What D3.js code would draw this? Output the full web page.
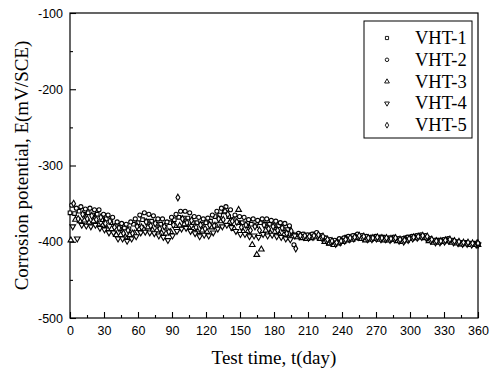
<!DOCTYPE html>
<html lang="en">
<head>
    <meta charset="UTF-8">
    <script src="https://d3js.org/d3.v7.min.js"></script>
    <style>
        body { margin: 0; background: #fff; }
        .tick text { font-family: "Liberation Sans", Arial, sans-serif; font-size: 12.5px; fill: #000; }
        .title { font-family: "Liberation Serif", "Times New Roman", serif; font-size: 19px; fill: #000; }
        .legend text { font-family: "Liberation Serif", "Times New Roman", serif; font-size: 18.5px; fill: #000; }
    </style>
</head>
<body>
    <div id="chart"></div>

    <script>
        // measurement days (every 4 days), each specimen shifted a little
        const days = d3.range(0, 361, 4);
        const dayOffsets = [0, 1.6, 0.8, 2.4, 3.2];
        const seriesNames = ["VHT-1", "VHT-2", "VHT-3", "VHT-4", "VHT-5"];
        const xTicks = d3.range(0, 361, 30);
        const yTicks = [-500, -400, -300, -200, -100];

        // corrosion potential (mV/SCE)
        const vht1 = [-362,-363,-360,-364,-362,-365,-364,-371,-370,-375,
            -379,-383,-382,-383,-377,-375,-371,-373,-373,-377,
            -377,-381,-375,-371,-368,-369,-369,-375,-375,-377,
            -375,-373,-367,-365,-361,-367,-371,-375,-375,-379,
            -377,-379,-375,-377,-377,-379,-379,-383,-384,-390,
            -391,-391,-395,-392,-390,-394,-397,-402,-400,-399,
            -398,-394,-396,-392,-394,-394,-395,-396,-396,-394,
            -396,-397,-398,-398,-395,-394,-394,-394,-393,-398,
            -399,-398,-399,-399,-399,-401,-403,-401,-403,-402,-403];
        const vht2 = [-352,-356,-354,-357,-356,-358,-358,-364,-365,-368,
            -374,-376,-377,-374,-370,-365,-362,-364,-366,-370,
            -370,-374,-368,-364,-360,-360,-362,-367,-368,-370,
            -369,-365,-360,-356,-354,-358,-365,-367,-368,-371,
            -370,-372,-370,-370,-372,-373,-375,-376,-379,-404,
            -389,-390,-391,-390,-388,-392,-395,-397,-398,-396,
            -395,-393,-392,-390,-392,-393,-394,-393,-394,-395,
            -395,-394,-396,-396,-394,-393,-392,-391,-392,-396,
            -398,-398,-397,-396,-398,-400,-401,-401,-402,-402,-402];
        const vht3 = [-398,-371,-373,-372,-375,-373,-377,-379,-383,-383,
            -391,-391,-394,-391,-389,-383,-383,-381,-385,-385,
            -389,-389,-387,-379,-379,-377,-381,-383,-387,-385,
            -387,-381,-379,-373,-360,-375,-383,-358,-387,-387,
            -404,-417,-410,-385,-389,-387,-391,-391,-395,-393,
            -394,-395,-396,-395,-394,-396,-400,-402,-404,-402,
            -400,-398,-397,-395,-396,-398,-397,-396,-397,-398,
            -398,-397,-399,-400,-398,-396,-395,-394,-395,-399,
            -401,-401,-400,-399,-401,-402,-403,-403,-404,-404,-404];
        const vht4 = [-380,-396,-378,-379,-380,-378,-382,-384,-388,-388,
            -396,-396,-399,-396,-393,-388,-387,-388,-389,-392,
            -394,-398,-392,-386,-383,-382,-386,-389,-393,-391,
            -392,-388,-383,-380,-378,-381,-386,-390,-390,-393,
            -392,-394,-390,-392,-391,-393,-394,-396,-397,-392,
            -393,-394,-395,-394,-393,-395,-399,-401,-403,-401,
            -399,-397,-396,-394,-395,-397,-397,-396,-397,-397,
            -398,-397,-399,-400,-398,-396,-395,-394,-395,-399,
            -401,-401,-400,-399,-401,-402,-403,-403,-404,-404,-404];
        const vht5 = [-350,-370,-364,-370,-366,-371,-368,-376,-373,-381,
            -382,-389,-385,-389,-380,-381,-374,-379,-376,-383,
            -380,-387,-378,-342,-370,-375,-372,-381,-378,-383,
            -378,-379,-370,-371,-364,-373,-374,-381,-378,-385,
            -380,-385,-378,-383,-380,-385,-382,-389,-386,-409,
            -392,-392,-393,-392,-391,-393,-397,-399,-401,-399,
            -397,-395,-394,-392,-393,-395,-395,-394,-395,-395,
            -396,-395,-397,-398,-396,-394,-393,-392,-393,-397,
            -399,-399,-398,-397,-399,-400,-401,-401,-402,-402,-402];

        const allSeries = [vht1, vht2, vht3, vht4, vht5];
        const symbols = [d3.symbolSquare, d3.symbolCircle, d3.symbolTriangle, d3.symbolTriangle, d3.symbolDiamond];
        const rotations = [0, 0, 0, 180, 0];

        const margin = {top: 13, right: 13, bottom: 58, left: 70},
            width = 491 - margin.left - margin.right,
            height = 376 - margin.top - margin.bottom;

        const svg = d3.select("#chart")
            .append("svg")
            .attr("width", 491)
            .attr("height", 376)
            .append("g")
            .attr("transform", `translate(${margin.left},${margin.top})`);

        const x = d3.scaleLinear().domain([0, 360]).range([0, width]);
        const y = d3.scaleLinear().domain([-500, -100]).range([height, 0]);

        // frame
        svg.append("rect")
            .attr("width", width)
            .attr("height", height)
            .attr("fill", "none")
            .attr("stroke", "#000")
            .attr("stroke-width", 1.2);

        // minor ticks
        svg.append("g")
            .attr("transform", `translate(0,${height})`)
            .call(d3.axisBottom(x).tickValues(d3.range(15, 360, 30)).tickSize(-3).tickFormat(""))
            .call(g => g.select(".domain").remove());
        svg.append("g")
            .call(d3.axisLeft(y).tickValues([-450, -350, -250, -150]).tickSize(-3).tickFormat(""))
            .call(g => g.select(".domain").remove());

        // major ticks
        svg.append("g")
            .attr("transform", `translate(0,${height})`)
            .call(d3.axisBottom(x).tickValues(xTicks).tickSize(-6).tickPadding(8))
            .call(g => g.select(".domain").remove());
        svg.append("g")
            .call(d3.axisLeft(y).tickValues(yTicks).tickSize(-6).tickPadding(7).tickFormat(d => String(d)))
            .call(g => g.select(".domain").remove());

        svg.selectAll(".tick line").attr("stroke", "#000").attr("stroke-width", 1.1);

        // points
        allSeries.forEach((vals, i) => {
            const sym = d3.symbol().type(symbols[i]).size(i === 2 || i === 3 ? 14 : 13);
            svg.append("g")
                .selectAll("path")
                .data(vals.map((v, j) => ({day: Math.min(days[j] + dayOffsets[i], 360), v})))
                .enter()
                .append("path")
                .attr("d", sym)
                .attr("transform", d => `translate(${x(d.day)},${y(d.v)}) rotate(${rotations[i]})`)
                .attr("fill", "#fff")
                .attr("stroke", "#000")
                .attr("stroke-width", 1.1);
        });

        // legend
        const legend = svg.append("g").attr("class", "legend");
        legend.append("rect")
            .attr("x", 294).attr("y", 8)
            .attr("width", 108).attr("height", 117)
            .attr("fill", "#fff")
            .attr("stroke", "#000")
            .attr("stroke-width", 1);
        seriesNames.forEach((name, i) => {
            const ly = 25 + i * 21.8;
            legend.append("path")
                .attr("d", d3.symbol().type(symbols[i]).size(10))
                .attr("transform", `translate(317,${ly}) rotate(${rotations[i]})`)
                .attr("fill", "#fff")
                .attr("stroke", "#000")
                .attr("stroke-width", 0.9);
            legend.append("text")
                .attr("x", 345)
                .attr("y", ly + 6)
                .text(name);
        });

        // axis titles
        svg.append("text")
            .attr("class", "title")
            .attr("x", width / 2)
            .attr("y", height + 46)
            .attr("text-anchor", "middle")
            .text("Test time, t(day)");
        svg.append("text")
            .attr("class", "title")
            .attr("transform", `translate(-42,${height / 2}) rotate(-90)`)
            .attr("text-anchor", "middle")
            .text("Corrosion potential, E(mV/SCE)");
    </script>
</body>
</html>
